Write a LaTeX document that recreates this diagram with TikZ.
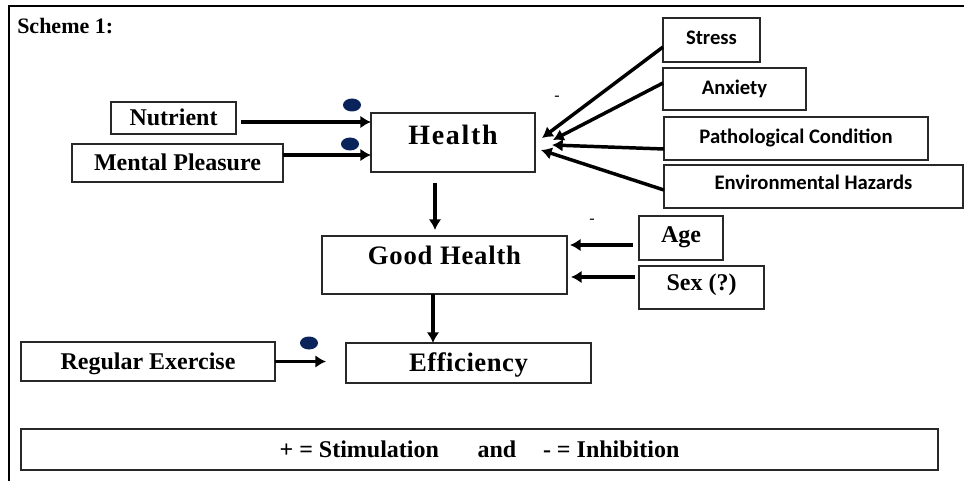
\documentclass[tikz,border=0pt]{standalone}
\usepackage{fontspec}
\setmainfont{Liberation Serif}
\newfontfamily\calfont{Carlito}
\usetikzlibrary{arrows.meta,calc,shapes.geometric}
\definecolor{dotblue}{RGB}{10,35,90}
\definecolor{boxline}{RGB}{40,40,40}
\tikzset{
  bx/.style={draw=boxline, line width=1.2pt, rectangle, inner sep=0pt, outer sep=0pt},
  sz/.style n args={2}{minimum width=#1*0.75pt, minimum height=#2*0.75pt},
  sf/.style={font=\calfont\bfseries\fontsize{15.5}{19}\selectfont, text height=10pt, text depth=0pt},
  rmb/.style={font=\bfseries\fontsize{18}{21}\selectfont, text height=11.9pt, text depth=0pt},
  arr/.style={line width=2.6pt, -{Latex[length=8pt,width=9.5pt]}},
  dotmark/.style={ellipse, fill=dotblue, minimum width=13.5pt, minimum height=9.75pt, inner sep=0pt},
  minussign/.style={font=\fontsize{12}{12}\selectfont, inner sep=0pt},
  frameline/.style={line width=1.9pt}
}
\begin{document}
\begin{tikzpicture}[x=0.75pt,y=-0.75pt]
\useasboundingbox (0,0) rectangle (964,481);
\fill[white] (0,0) rectangle (964,481);
\draw[frameline] (964,6) -- (9,6) -- (9,481);

\node[anchor=west, inner sep=0pt, font=\bfseries\fontsize{16.5}{19}\selectfont, text height=10.9pt, text depth=0pt] (title) at (17,26.5) {Scheme 1:};

\node[bx, sz={125}{32}, rmb] (nutrient) at (173.5,118) {Nutrient};
\node[bx, sz={211}{38}, rmb] (mental) at (177.5,163) {Mental Pleasure};
\node[bx, sz={164}{59}, font=\bfseries\fontsize{21}{24}\selectfont\addfontfeatures{LetterSpace=6}, text height=13.9pt, text depth=11pt] (health) at (453,142.5) {Health};
\node[bx, sz={245}{58}, font=\bfseries\fontsize{20}{23}\selectfont\addfontfeatures{LetterSpace=3}, text height=13.2pt, text depth=14.25pt] (good) at (444.5,265) {Good Health};
\node[bx, sz={245}{40}, font=\bfseries\fontsize{20}{23}\selectfont\addfontfeatures{LetterSpace=2}, text height=13.2pt, text depth=0pt] (eff) at (468.5,363) {Efficiency};
\node[bx, sz={254}{39}, rmb] (reg) at (148,361.5) {Regular Exercise};

\node[bx, sz={97}{44}, sf, text depth=3.75pt] (stress) at (711.5,40) {Stress};
\node[bx, sz={143}{42}, sf, text depth=1.5pt] (anx) at (734.5,89) {Anxiety};
\node[bx, sz={264}{43}, sf, text depth=2.25pt] (patho) at (796,138.5) {Pathological Condition};
\node[bx, sz={299}{43}, sf, text depth=5.25pt] (env) at (813.5,186.5) {Environmental Hazards};

\node[bx, sz={84}{44}, rmb, text depth=4.5pt] (age) at (681,238) {Age};
\node[bx, sz={125}{43}, rmb, text depth=6.75pt] (sex) at (701.5,287.5) {Sex (?)};

\node[bx, sz={917}{41}, font=\bfseries\fontsize{18}{21}\selectfont, text height=11.9pt, text depth=0pt] (legend) at (479.5,449.5) {+ = Stimulation\hspace{29pt}and\hspace{20pt}- = Inhibition};

\node[dotmark] (p1) at (352,105) {};
\node[dotmark] (p2) at (350,144) {};
\node[dotmark] (p3) at (309,343) {};

\node[minussign] (minus1) at (557,98) {-};
\node[minussign] (minus2) at (592,221) {-};

\draw[arr] ($(nutrient.east)+(5,4)$) coordinate (nA) -- (nA -| health.west);
\draw[arr] ($(mental.east)+(0,-8)$) coordinate (mA) -- (mA -| health.west);
\draw[arr] ($(stress.west)+(0,7)$) -- ($(health.east)+(7,-4.5)$);
\draw[arr] ($(anx.west)+(0,-6)$) -- ($(health.east)+(18,-2.5)$);
\draw[arr] ($(patho.west)+(0,10.5)$) -- ($(health.east)+(17,2.5)$);
\draw[arr] ($(env.west)+(0,3.5)$) -- ($(health.east)+(6,7.5)$);
\draw[arr] ($(health.south)+(-18,11)$) coordinate (hA) -- ($(hA |- good.north)+(0,-6)$);
\draw[arr] ($(good.south)+(-11.5,0)$) coordinate (gA) -- (gA |- eff.north);
\draw[arr] ($(age.west)+(-6,7)$) coordinate (aA) -- ($(aA -| good.east)+(3,0)$);
\draw[arr] ($(sex.west)+(-4,-10.5)$) coordinate (sA) -- ($(sA -| good.east)+(4,0)$);
\draw[arr] (reg.east) -- ($(reg.east -| eff.west)+(-20,0)$);
\end{tikzpicture}
\end{document}
